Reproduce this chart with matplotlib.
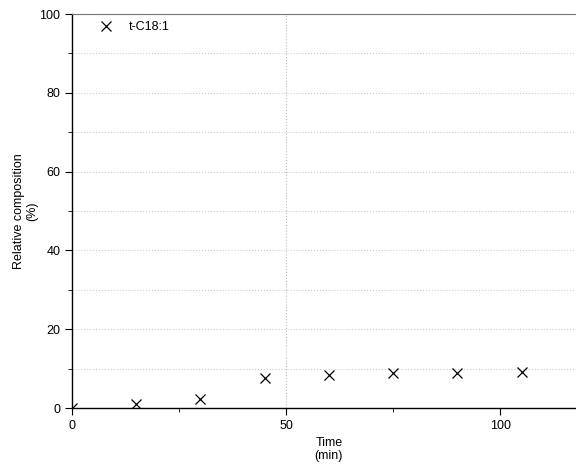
import matplotlib.pyplot as plt
from matplotlib.ticker import MultipleLocator

plt.rcParams['font.family'] = ['Liberation Sans', 'DejaVu Sans']

time_min = [0, 15, 30, 45, 60, 75, 90, 105]
t_c18_1 = [0.0, 1.0, 2.3, 7.7, 8.5, 8.8, 8.8, 9.1]

fig = plt.figure(figsize=(5.76, 4.68), dpi=100)
ax = fig.add_axes([0.125, 0.128, 0.892, 0.842])

ax.plot(time_min, t_c18_1, linestyle='none', marker='x', markersize=7,
        markeredgewidth=0.9, color='black', label='t-C18:1')

ax.set_xlim(0, 120)
ax.set_ylim(0, 100)
ax.xaxis.set_major_locator(MultipleLocator(50))
ax.xaxis.set_minor_locator(MultipleLocator(25))
ax.yaxis.set_major_locator(MultipleLocator(20))
ax.yaxis.set_minor_locator(MultipleLocator(10))

ax.grid(True, which='major', axis='x', linestyle=':', color='#bbbbbb', lw=0.8)
ax.grid(True, which='both', axis='y', linestyle=':', color='#cccccc', lw=0.8)

ax.tick_params(which='major', direction='out', length=5, labelsize=9)
ax.tick_params(which='minor', direction='out', length=3)

ax.spines['top'].set_color('#777777')
ax.spines['left'].set_linewidth(1.0)
ax.spines['bottom'].set_linewidth(1.0)

ax.set_xlabel("Time\n(min)", fontsize=9, linespacing=1.1)
ax.set_ylabel("Relative composition\n(%)", fontsize=9, linespacing=1.1, labelpad=1)

ax.legend(loc='upper left', bbox_to_anchor=(0.02, 1.01), frameon=False,
          fontsize=9, handletextpad=0.8)

# only the middle vertical grid line shows in the original
fig.canvas.draw()
for tick in ax.xaxis.get_major_ticks():
    if abs(tick.get_loc() - 50) > 1e-6:
        tick.gridline.set_visible(False)

plt.savefig("out.png", dpi=100)
